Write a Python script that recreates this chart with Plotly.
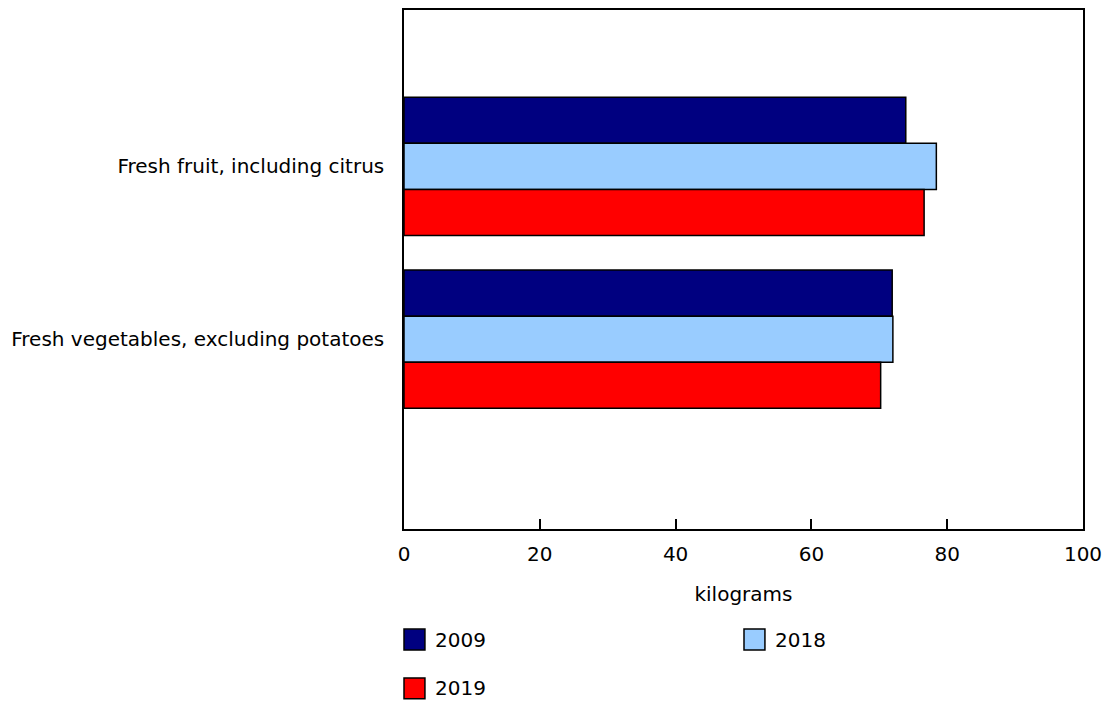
import plotly.graph_objects as go

categories = ["Fresh fruit, including citrus", "Fresh vegetables, excluding potatoes"]
series_names = ["2009", "2018", "2019"]
values_2009 = [73.9, 71.9]
values_2018 = [78.4, 72.0]
values_2019 = [76.6, 70.2]
x_ticks = [0, 20, 40, 60, 80, 100]
colors = ["#000080", "#99CCFF", "#FF0000"]

W, H = 1110, 705
L, R, T, B = 404, 25, 8, 176
PW, PH = W - L - R, H - T - B
FONT = dict(family="DejaVu Sans, Verdana, sans-serif", size=20, color="#000000")

fig = go.Figure()
for name, vals, col in zip(series_names, [values_2009, values_2018, values_2019], colors):
    fig.add_trace(go.Bar(
        y=categories, x=vals, name=name, orientation="h",
        marker=dict(color=col, line=dict(color="#000000", width=1.5)),
        showlegend=False, hoverinfo="x+name",
    ))

def px_to_paper(px, py):
    return (px - L) / PW, (H - B - py) / PH

# custom legend (large square swatches, two columns)
legend_pos = [(404, 640), (745, 640), (404, 689)]
shapes = []
annotations = []
for name, col, (lx, ly) in zip(series_names, colors, legend_pos):
    x0, y0 = px_to_paper(lx, ly + 10.5)
    x1, y1 = px_to_paper(lx + 21, ly - 10.5)
    shapes.append(dict(type="rect", xref="paper", yref="paper", x0=x0, x1=x1, y0=y0, y1=y1,
                       fillcolor=col, line=dict(color="#000000", width=1.5)))
    tx, ty = px_to_paper(lx + 29, ly)
    annotations.append(dict(text=name, xref="paper", yref="paper", x=tx, y=ty,
                            xanchor="left", yanchor="middle", showarrow=False, font=FONT))

fig.update_layout(
    width=W, height=H,
    margin=dict(l=L, r=R, t=T, b=B),
    paper_bgcolor="white", plot_bgcolor="white",
    font=FONT,
    barmode="group", bargap=0.2, bargroupgap=0,
    shapes=shapes, annotations=annotations,
    showlegend=False,
    xaxis=dict(
        range=[0, 100], tickvals=x_ticks, ticktext=[str(v) for v in x_ticks],
        ticks="inside", ticklen=10, tickwidth=1.5, tickcolor="#000000",
        showline=True, linecolor="#000000", linewidth=1.5, mirror=True,
        showgrid=False, zeroline=False,
        title=dict(text="kilograms", font=FONT, standoff=22),
        ticklabelstandoff=6,
    ),
    yaxis=dict(
        type="category", range=[2.098, -0.905],
        showline=True, linecolor="#000000", linewidth=1.5, mirror=True,
        showgrid=False, zeroline=False, ticks="",
        ticklabelstandoff=14,
    ),
)

fig.write_html("out.html", config={"displayModeBar": False},
               post_script="document.body.style.margin='0';document.body.style.overflow='hidden';")
